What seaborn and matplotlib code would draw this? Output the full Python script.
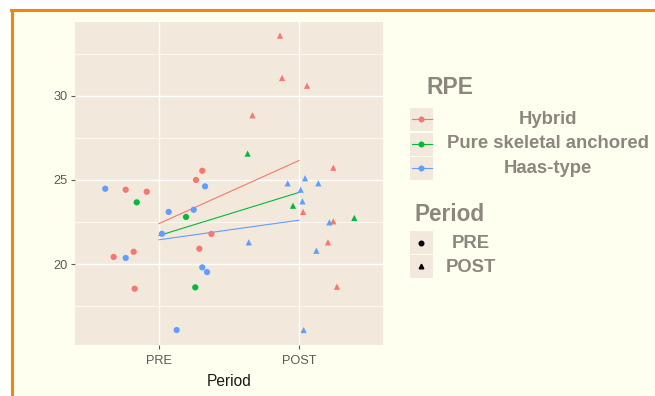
import numpy as np
import pandas as pd
import matplotlib
matplotlib.use("Agg")
import matplotlib.pyplot as plt
import seaborn as sns
from matplotlib.lines import Line2D
from matplotlib.patches import Rectangle

# ---------------- data ----------------
rpe_groups = ["Hybrid", "Pure skeletal anchored", "Haas-type"]
periods = ["PRE", "POST"]

hybrid_pre = [24.42, 24.30, 20.42, 20.73, 18.53, 25.00, 25.55, 20.91, 21.79]
hybrid_pre_jitter = [-0.238, -0.088, -0.324, -0.181, -0.174, 0.264, 0.309, 0.288, 0.374]
hybrid_post = [33.59, 31.07, 30.61, 28.85, 25.73, 23.10, 22.54, 21.29, 18.65]
hybrid_post_jitter = [-0.136, -0.121, 0.057, -0.333, 0.245, 0.029, 0.245, 0.207, 0.271]

pure_pre = [23.67, 22.80, 18.61]
pure_pre_jitter = [-0.159, 0.193, 0.259]
pure_post = [26.57, 23.47, 22.74]
pure_post_jitter = [-0.367, -0.043, 0.395]

haas_pre = [24.48, 23.10, 21.80, 23.23, 24.62, 20.36, 19.80, 19.52, 16.07]
haas_pre_jitter = [-0.384, 0.069, 0.021, 0.248, 0.329, -0.238, 0.309, 0.343, 0.126]
haas_post = [24.80, 24.80, 25.10, 24.42, 23.73, 22.48, 21.29, 20.79, 16.07]
haas_post_jitter = [-0.081, 0.138, 0.043, 0.012, 0.024, 0.217, -0.359, 0.124, 0.033]

y_ticks = [20, 25, 30]

# ---------------- build table ----------------
series = {
    "Hybrid": (hybrid_pre, hybrid_pre_jitter, hybrid_post, hybrid_post_jitter),
    "Pure skeletal anchored": (pure_pre, pure_pre_jitter, pure_post, pure_post_jitter),
    "Haas-type": (haas_pre, haas_pre_jitter, haas_post, haas_post_jitter),
}
rows = []
for g, (pre, pre_j, post, post_j) in series.items():
    for v, j in zip(pre, pre_j):
        rows.append(dict(rpe=g, period="PRE", code=1, jitter=j, value=v))
    for v, j in zip(post, post_j):
        rows.append(dict(rpe=g, period="POST", code=2, jitter=j, value=v))
df = pd.DataFrame(rows)
df["xpos"] = df["code"] + df["jitter"]

palette = {"Hybrid": "#F8766D", "Pure skeletal anchored": "#00BA38", "Haas-type": "#619CFF"}

# ---------------- figure ----------------
W, H = 655, 396
plt.rcParams["font.family"] = ["Liberation Sans", "DejaVu Sans"]
fig = plt.figure(figsize=(W / 100, H / 100), dpi=100, facecolor="white")

def fx(x):
    return x / W

def fy(y):
    return 1 - y / H

# ivory background with orange frame
fig.add_artist(Rectangle((fx(12), 0), 1, fy(9.5), transform=fig.transFigure,
                         facecolor="#FFFFF0", edgecolor="none", zorder=0))
fig.add_artist(Line2D([fx(11), 1], [fy(9.5), fy(9.5)], transform=fig.transFigure,
                      color="#F0860F", lw=2.2, zorder=1))
fig.add_artist(Line2D([fx(12), fx(12)], [0, fy(9.5)], transform=fig.transFigure,
                      color="#F0860F", lw=2.2, zorder=1))

panel_bg = "#F2E9DC"
ax = fig.add_axes([fx(75), fy(345), (383 - 75) / W, (345 - 21.7) / H])
ax.set_facecolor(panel_bg)

sns.scatterplot(data=df, x="xpos", y="value", hue="rpe", style="period",
                hue_order=rpe_groups, style_order=periods, palette=palette,
                markers={"PRE": "o", "POST": "^"}, s=20, linewidth=0,
                legend=False, ax=ax, zorder=3)

for g in rpe_groups:
    sns.regplot(data=df[df["rpe"] == g], x="code", y="value", scatter=False,
                ci=None, truncate=True, color=palette[g],
                line_kws=dict(lw=0.8, zorder=2), ax=ax)

ax.set_xlim(0.4, 2.6)
ax.set_ylim(15.18, 34.42)
ax.set_xticks([1, 2])
ax.set_xticklabels(periods)
ax.set_yticks(y_ticks)
ax.set_yticks([17.5, 22.5, 27.5, 32.5], minor=True)
ax.grid(which="major", color="white", lw=1.0)
ax.grid(which="minor", axis="y", color="white", lw=0.5)
ax.set_axisbelow(True)
for s in ax.spines.values():
    s.set_visible(False)
ax.tick_params(which="major", length=3, width=0.8, color="#5a5a5a",
               labelsize=9.2, labelcolor="#5a5a5a", pad=2)
ax.tick_params(axis="x", which="major", pad=4)
ax.tick_params(which="minor", length=0)
ax.set_xlabel("Period", fontsize=11.2, color="#1a1a1a", labelpad=5)
ax.set_ylabel("")

# ---------------- legend (ggplot style) ----------------
txt_col = "#8C867E"
fig.text(fx(426), fy(88), "RPE", fontsize=16.5, fontweight="bold", color=txt_col,
         ha="left", va="center")
rpe_rows = [119.5, 144, 168]
for g, yc in zip(rpe_groups, rpe_rows):
    fig.add_artist(Rectangle((fx(410), fy(yc + 11.5)), 23 / W, 23 / H,
                             transform=fig.transFigure, facecolor=panel_bg,
                             edgecolor="none"))
    fig.add_artist(Line2D([fx(411.5), fx(431.5)], [fy(yc), fy(yc)],
                          transform=fig.transFigure, color=palette[g], lw=0.8))
    fig.add_artist(Line2D([fx(421.5)], [fy(yc)], transform=fig.transFigure,
                          marker="o", markersize=3.3, color=palette[g], lw=0))
    fig.text(fx(548), fy(yc), g, fontsize=13.3, fontweight="bold", color=txt_col,
             ha="center", va="center")

fig.text(fx(415), fy(214), "Period", fontsize=16.3, fontweight="bold", color=txt_col,
         ha="left", va="center")
per_rows = [243, 266]
for p, yc, m in zip(periods, per_rows, ["o", "^"]):
    fig.add_artist(Rectangle((fx(410), fy(yc + 11.5)), 23 / W, 23 / H,
                             transform=fig.transFigure, facecolor=panel_bg,
                             edgecolor="none"))
    fig.add_artist(Line2D([fx(421.5)], [fy(yc)], transform=fig.transFigure,
                          marker=m, markersize=3.3, color="black", lw=0))
    fig.text(fx(471), fy(yc + 1), p, fontsize=13.3, fontweight="bold", color=txt_col,
             ha="center", va="center")

fig.savefig("out.png", dpi=100, facecolor=fig.get_facecolor())
